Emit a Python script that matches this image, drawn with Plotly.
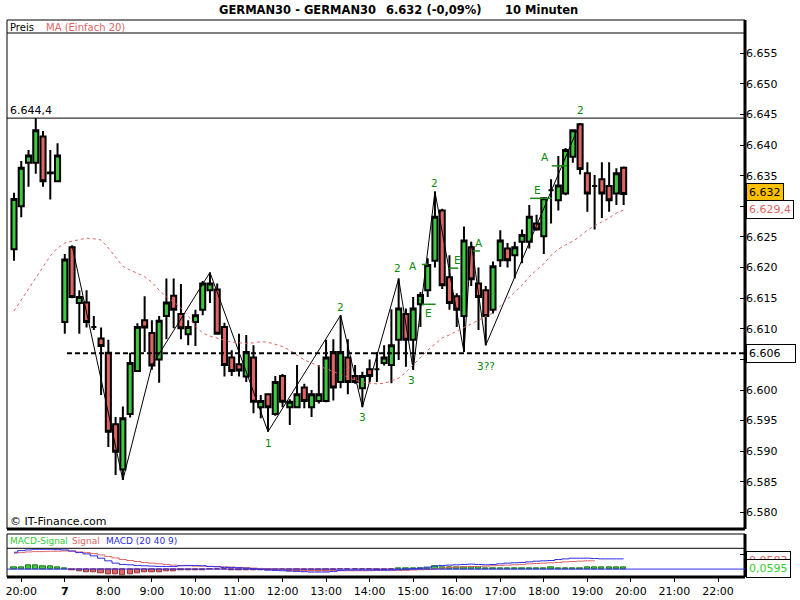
import plotly.graph_objects as go

# ---------------- data (10-minute candles, index 0..84) ----------------
opens = [6623.0, 6630.0, 6637.1, 6637.1, 6641.4, 6635.4, 6634.1,
         6611.1, 6623.3, 6614.2, 6614.3, 6610.3, 6608.4, 6606.1, 6594.4, 6587.0, 6596.1,
         6603.1, 6611.4, 6609.3, 6605.0, 6612.1, 6615.4, 6612.4, 6609.1, 6611.1, 6613.1,
         6616.3, 6616.4, 6610.3, 6605.3, 6604.2, 6602.2, 6605.3, 6597.2, 6599.3, 6596.1,
         6602.3, 6597.2, 6597.2, 6600.4, 6597.2, 6598.2, 6598.2, 6606.2, 6601.3, 6605.3,
         6602.3, 6600.3, 6603.4, 6603.4, 6604.4, 6604.1, 6608.2, 6612.4, 6608.2, 6614.0,
         6616.3, 6621.1, 6629.3, 6618.4, 6615.3, 6612.1, 6623.3, 6617.4, 6616.3, 6613.1,
         6621.2, 6623.1, 6622.0, 6624.2, 6624.2, 6627.2, 6625.1, 6632.6, 6631.0, 6632.1,
         6638.1, 6643.4, 6635.4, 6633.3, 6634.4, 6633.3, 6632.1, 6636.3]
highs = [6632.2, 6637.4, 6639.2, 6644.4, 6642.3, 6639.2, 6640.3,
         6622.2, 6623.6, 6616.3, 6616.3, 6612.1, 6610.2, 6608.2, 6595.6, 6597.3, 6606.1,
         6610.9, 6615.3, 6611.4, 6612.1, 6618.2, 6618.2, 6617.3, 6611.4, 6613.1, 6617.8,
         6619.2, 6617.4, 6611.0, 6606.5, 6609.2, 6609.0, 6607.3, 6599.2, 6599.3, 6602.3,
         6602.6, 6598.5, 6604.1, 6601.0, 6600.0, 6604.1, 6608.2, 6608.3, 6612.2, 6608.3,
         6604.1, 6603.0, 6605.0, 6606.2, 6607.3, 6613.2, 6618.2, 6613.3, 6615.2, 6616.0,
         6621.5, 6632.4, 6629.6, 6622.0, 6615.8, 6626.7, 6624.2, 6620.0, 6617.0, 6621.0,
         6626.1, 6624.0, 6624.2, 6626.2, 6630.2, 6628.6, 6631.5, 6634.4, 6638.2, 6639.5,
         6642.5, 6643.6, 6637.2, 6635.1, 6637.2, 6637.2, 6636.2, 6636.5]
lows = [6621.1, 6628.2, 6633.2, 6635.3, 6633.2, 6631.1, 6634.1,
        6609.2, 6615.0, 6609.2, 6610.2, 6609.8, 6599.2, 6590.7, 6586.1, 6585.3, 6595.5,
        6603.1, 6606.2, 6603.3, 6601.2, 6608.3, 6610.1, 6608.3, 6607.3, 6607.2, 6612.2,
        6614.2, 6609.2, 6602.2, 6602.3, 6602.2, 6601.3, 6596.2, 6595.4, 6593.2, 6595.8,
        6597.2, 6594.3, 6597.0, 6597.0, 6595.6, 6597.8, 6598.0, 6598.3, 6600.3, 6599.3,
        6601.0, 6597.2, 6601.3, 6601.3, 6604.0, 6601.1, 6604.9, 6603.8, 6603.3, 6610.3,
        6615.2, 6620.0, 6616.5, 6613.1, 6610.3, 6606.2, 6617.0, 6609.8, 6607.3, 6612.5,
        6620.1, 6620.0, 6618.2, 6620.7, 6623.1, 6626.0, 6622.2, 6627.2, 6629.3, 6631.8,
        6637.1, 6635.2, 6629.1, 6626.2, 6628.1, 6629.1, 6630.2, 6630.2]
closes = [6631.2, 6636.3, 6638.3, 6642.4, 6634.1, 6635.5, 6638.3,
          6621.3, 6615.2, 6615.2, 6611.1, 6610.3, 6607.2, 6593.2, 6589.9, 6595.4, 6604.4,
          6610.3, 6610.2, 6604.0, 6611.3, 6614.3, 6613.1, 6610.1, 6610.3, 6612.2, 6617.4,
          6617.4, 6609.2, 6604.1, 6603.1, 6603.2, 6606.2, 6598.1, 6598.2, 6597.2, 6601.3,
          6598.1, 6598.1, 6599.3, 6598.2, 6599.3, 6599.3, 6605.3, 6600.4, 6606.2, 6601.3,
          6601.3, 6602.3, 6602.3, 6603.4, 6605.3, 6607.3, 6613.3, 6608.2, 6613.3, 6615.5,
          6620.4, 6628.3, 6617.1, 6614.2, 6613.1, 6624.4, 6618.1, 6615.2, 6612.1, 6620.2,
          6624.4, 6621.2, 6623.3, 6625.3, 6628.3, 6626.2, 6631.3, 6632.6, 6633.4, 6639.2,
          6642.4, 6636.1, 6632.1, 6633.3, 6632.1, 6631.0, 6635.4, 6632.0]
ma20 = [6612.9, 6614.7, 6616.5, 6618.3, 6620.1, 6621.9, 6623.2, 6624.0, 6624.3, 6624.5,
        6624.8, 6624.7, 6624.5, 6623.2, 6621.6, 6620.2, 6619.6, 6619.1, 6618.5, 6617.6,
        6616.3, 6615.2, 6614.4, 6613.4, 6612.1, 6610.4, 6609.3, 6608.8, 6608.5, 6608.2,
        6607.8, 6607.7, 6607.6, 6607.7, 6607.9, 6607.8, 6607.5, 6607.1, 6606.5, 6605.7,
        6604.9, 6604.4, 6603.9, 6603.4, 6603.0, 6602.6, 6602.1, 6601.6, 6601.3, 6601.1,
        6601.0, 6601.1, 6601.5, 6601.9, 6602.9, 6604.1, 6605.2, 6606.5, 6607.5, 6608.5,
        6609.0, 6609.6, 6610.3, 6610.9, 6611.4, 6612.1, 6612.6, 6613.7, 6614.9, 6616.0,
        6617.1, 6618.5, 6619.6, 6620.6, 6622.0, 6623.0, 6623.7, 6624.3, 6625.1, 6626.1,
        6626.8, 6627.4, 6628.1, 6628.9, 6629.4]
macd = [0.51, 0.56, 0.58, 0.60, 0.60, 0.60, 0.59, 0.58, 0.55, 0.50,
        0.46, 0.40, 0.33, 0.25, 0.18, 0.14, 0.13, 0.11, 0.10, 0.09,
        0.08, 0.08, 0.08, 0.10, 0.11, 0.11, 0.10, 0.08, 0.07, 0.05,
        0.05, 0.04, 0.03, 0.01, -0.01, -0.03, -0.04, -0.05, -0.06, -0.07,
        -0.08, -0.09, -0.09, -0.09, -0.07, -0.04, -0.03, -0.03, -0.03, -0.03,
        -0.03, -0.03, -0.03, -0.02, -0.01, 0.01, 0.03, 0.06, 0.09, 0.11,
        0.12, 0.13, 0.14, 0.15, 0.14, 0.13, 0.14, 0.16, 0.18, 0.19,
        0.20, 0.22, 0.24, 0.25, 0.26, 0.29, 0.31, 0.33, 0.33, 0.33,
        0.32, 0.31, 0.31, 0.31, 0.31]
signal = [0.48, 0.50, 0.52, 0.53, 0.53, 0.54, 0.54, 0.55, 0.54, 0.52,
          0.50, 0.47, 0.43, 0.38, 0.34, 0.29, 0.26, 0.23, 0.20, 0.18,
          0.16, 0.14, 0.12, 0.11, 0.10, 0.09, 0.09, 0.08, 0.08, 0.07,
          0.06, 0.05, 0.04, 0.03, 0.02, 0.01, 0.00, -0.01, -0.02, -0.03,
          -0.04, -0.04, -0.05, -0.05, -0.05, -0.05, -0.05, -0.05, -0.05, -0.05,
          -0.04, -0.04, -0.04, -0.04, -0.04, -0.03, -0.02, -0.01, 0.01, 0.03,
          0.05, 0.06, 0.07, 0.08, 0.08, 0.09, 0.10, 0.11, 0.12, 0.13,
          0.14, 0.16, 0.17, 0.18, 0.19, 0.20, 0.22, 0.23, 0.24, 0.25,
          0.25, None, None, None, None]
hist = [0.06, 0.06, 0.10, 0.10, 0.07, 0.07, 0.06, 0.03, -0.05, -0.07,
        -0.09, -0.11, -0.13, -0.15, -0.17, -0.18, -0.15, -0.13, -0.11, -0.11,
        -0.09, -0.07, -0.06, -0.05, -0.05, -0.05, -0.03, -0.02, -0.02, -0.015,
        -0.05, -0.05, -0.05, -0.04, -0.04, -0.04, -0.04, -0.05, -0.06, -0.07,
        -0.07, -0.07, -0.07, -0.06, -0.03, -0.015, -0.01, -0.01, -0.01, -0.015,
        -0.04, -0.04, -0.015, 0.02, 0.03, 0.035, 0.03, 0.035, 0.07, 0.04,
        0.04, 0.04, 0.04, 0.04, 0.04, 0.03, 0.03, 0.03, 0.03, 0.03,
        0.03, 0.035, 0.035, 0.035, 0.05, 0.035, 0.035, 0.035, 0.035, 0.045,
        0.04, 0.04, 0.04, 0.04, 0.0595]

zig_idx = [8, 15, 19, 27, 35, 45, 48, 53, 55, 58, 62, 63, 65, 78]
zig_price = [6623.6, 6585.3, 6604.0, 6619.2, 6593.2, 6612.2, 6597.2, 6618.2,
             6603.3, 6632.4, 6606.2, 6624.2, 6607.3, 6643.6]

wave_txt = ["1", "2", "3", "2", "3", "2", "3??", "2"]
wave_idx = [35.0, 45.0, 48.0, 52.8, 54.8, 57.9, 65.0, 78.0]
wave_price = [6591.3, 6613.6, 6595.6, 6619.9, 6601.6, 6633.8, 6603.9, 6645.8]

ea_txt = ["A", "E", "E", "A", "E", "A"]
ea_level = [6620.5, 6614.0, 6619.9, 6622.7, 6631.3, 6636.6]
ea_from = [56.2, 56.2, 59.9, 63.2, 71.1, 74.1]
ea_to = [57.0, 58.1, 61.2, 64.2, 74.1, 76.2]
ea_lbl_idx = [55.0, 57.1, 61.1, 64.1, 72.1, 73.1]
ea_lbl_price = [6620.2, 6612.6, 6621.2, 6624.0, 6632.7, 6638.0]

time_idx = [1, 7, 13, 19, 25, 31, 37, 43, 49, 55, 61, 67, 73, 79, 85, 91, 97]
time_txt = ["20:00", "<b>7</b>", "8:00", "9:00", "10:00", "11:00", "12:00", "13:00",
            "14:00", "15:00", "16:00", "17:00", "18:00", "19:00", "20:00", "21:00", "22:00"]
price_ticks = [6580, 6585, 6590, 6595, 6600, 6605, 6610, 6615, 6620, 6625,
               6630, 6635, 6640, 6645, 6650, 6655]
hidden_tick_labels = [6605, 6630]

day_high = 6644.4
support = 6606
last_price = 6632
last_ma = 6629.4

GREEN = "#3DC93D"
RED = "#E06464"
FONT = "DejaVu Sans"
idx = list(range(len(opens)))


def de(v, dec=0):
    s = f"{v:,.{dec}f}"
    return s.replace(",", "X").replace(".", ",").replace("X", ".")


fig = go.Figure()

# zigzag (under candles)
fig.add_trace(go.Scatter(x=zig_idx, y=zig_price, mode="lines",
                         line=dict(color="black", width=1)))
# MA
fig.add_trace(go.Scatter(x=idx, y=ma20, mode="lines",
                         line=dict(color=RED, width=1, dash="dot")))
# candles
fig.add_trace(go.Candlestick(
    x=idx, open=opens, high=highs, low=lows, close=closes,
    increasing=dict(line=dict(color="black", width=2), fillcolor=GREEN),
    decreasing=dict(line=dict(color="black", width=2), fillcolor=RED),
    whiskerwidth=0))

# MACD panel
fig.add_trace(go.Bar(x=idx, y=hist, yaxis="y2", width=0.72,
                     marker=dict(color=[GREEN if h >= 0 else RED for h in hist],
                                 line=dict(color=["#1E7B1E" if h >= 0 else "#9A3030" for h in hist],
                                           width=1))))
fig.add_trace(go.Scatter(x=idx, y=signal, yaxis="y2", mode="lines", line_shape="hvh",
                         line=dict(color=RED, width=1)))
fig.add_trace(go.Scatter(x=idx, y=macd, yaxis="y2", mode="lines", line_shape="hvh",
                         line=dict(color="#2B2BE6", width=1)))

# geometry (paper fractions)
Y_MAIN0, Y_MAIN1 = 0.086176, 0.97666
Y_MACD_TOP, Y_MACD1 = 0.0772, 0.051526

shapes = []
def pline(x0, y0, x1, y1, w=1, color="black", xref="paper", yref="paper", dash=None):
    d = dict(type="line", x0=x0, y0=y0, x1=x1, y1=y1, xref=xref, yref=yref,
             line=dict(color=color, width=w))
    if dash:
        d["line"]["dash"] = dash
    shapes.append(d)

# main frame
pline(0, 1, 1, 1)
pline(0, Y_MAIN0, 0, 1)
pline(0, Y_MAIN1, 1, Y_MAIN1)
pline(0, Y_MAIN0, 1, Y_MAIN0, w=3)
pline(1, Y_MAIN0, 1, 1, w=3)
# macd frame
pline(0, Y_MACD_TOP, 1, Y_MACD_TOP)
pline(0, 0, 0, Y_MACD_TOP)
pline(0, Y_MACD1, 1, Y_MACD1)
pline(1, 0, 1, Y_MACD_TOP, w=3)
pline(0, 0, 1, 0, w=3)
# zero line of MACD
pline(0, 0, 1, 0, w=1, color="#2B2BE6", yref="y2")
# day high line
pline(0, day_high, 1, day_high, w=1, yref="y")
# support dashed line
pline(7.3, support, 100.72, support, w=2, xref="x", yref="y", dash="5px,3px")
# E / A marker lines
for a, b, lv in zip(ea_from, ea_to, ea_level):
    pline(a, lv, b, lv, w=1.5, color="#1A8A1A", xref="x", yref="y")

ann = []
def txt(x, y, s, color="black", size=11, xanchor="left", xref="paper", yref="paper", **kw):
    d = dict(x=x, y=y, text=s, xref=xref, yref=yref, showarrow=False, xanchor=xanchor,
             yanchor="middle", font=dict(family=FONT, size=size, color=color))
    d.update(kw)
    ann.append(d)

# title
TY = 1.01795
txt(0.28455, TY, "<b>GERMAN30 - GERMAN30</b>", size=11.5)
txt(0.51084, TY, f"<b>{de(last_price)} (-0,09%)</b>", size=11.5)
txt(0.67209, TY, "<b>10 Minuten</b>", size=11.5)
# legends
txt(0.0014, 0.98654, "Preis", size=10)
txt(0.0501, 0.98654, "MA (Einfach 20)", color=RED, size=10)
txt(0.0014, 0.06463, "MACD-Signal", color="#33CC33", size=9)
txt(0.0854, 0.06463, "Signal", color=RED, size=9)
txt(0.1314, 0.06463, "MACD (20 40 9)", color="#2B2BE6", size=9)
txt(0.0014, 0.83842, de(day_high, 1), size=11)
txt(0.0014, 0.09964, "© IT-Finance.com", size=11)

# wave labels
for s, xi, pv in zip(wave_txt, wave_idx, wave_price):
    txt(xi, pv, s, color="#0A8A0A", size=10.5, xanchor="center", xref="x", yref="y")
for s, xi, pv in zip(ea_txt, ea_lbl_idx, ea_lbl_price):
    txt(xi, pv, s, color="#0A8A0A", size=10.5, xanchor="center", xref="x", yref="y")

# right side value boxes
RX = 1.00136
txt(RX, support, de(support), size=11, yref="y", bgcolor="white",
    bordercolor="black", borderwidth=1, borderpad=2, width=44, align="left")
txt(RX, 6632.2, de(last_price), size=11, yref="y", bgcolor="#FFC000",
    bordercolor="black", borderwidth=1, borderpad=2)
txt(RX, last_ma, de(last_ma, 1), color=RED, size=11, yref="y", bgcolor="white",
    bordercolor="black", borderwidth=1, borderpad=2)
txt(RX, 0.249, "0,0583", color=RED, size=11, yref="y2", bgcolor="white",
    bordercolor="black", borderwidth=1, borderpad=2)
txt(RX, 0.024, "0,0595", color="#33CC33", size=11, yref="y2", bgcolor="white",
    bordercolor="black", borderwidth=1, borderpad=2)

fig.update_layout(
    width=800, height=600, autosize=False,
    margin=dict(l=7, r=55, t=20, b=23, pad=0, autoexpand=False),
    paper_bgcolor="white", plot_bgcolor="white",
    showlegend=False, hovermode=False,
    font=dict(family=FONT, size=11, color="black"),
    bargap=0, boxgap=0.3, boxgroupgap=0,
    xaxis=dict(range=[-0.964, 100.72], anchor="y2", tickmode="array",
               tickvals=time_idx, ticktext=time_txt, ticks="outside", ticklen=4,
               tickcolor="black", showgrid=False, zeroline=False, showline=False,
               tickfont=dict(family=FONT, size=11, color="black"),
               rangeslider=dict(visible=False), automargin=False),
    yaxis=dict(domain=[Y_MAIN0, Y_MAIN1], range=[6577.3, 6658.3], side="right",
               tickmode="array", tickvals=price_ticks,
               ticktext=["" if v in hidden_tick_labels else de(v) for v in price_ticks],
               ticks="inside", ticklen=5, tickcolor="black", showgrid=False,
               zeroline=False, showline=False, automargin=False,
               tickfont=dict(family=FONT, size=11, color="black")),
    yaxis2=dict(domain=[0, Y_MACD1], range=[-0.24, 0.63], side="right", anchor="x",
                tickmode="array", tickvals=[0.45], showticklabels=False,
                ticks="inside", ticklen=5, tickcolor="black", showgrid=False,
                zeroline=False, showline=False, automargin=False),
    shapes=shapes, annotations=ann,
)

fig.write_html("out.html", config={"displayModeBar": False},
               post_script="document.body.style.margin='0';document.body.style.padding='0';")
